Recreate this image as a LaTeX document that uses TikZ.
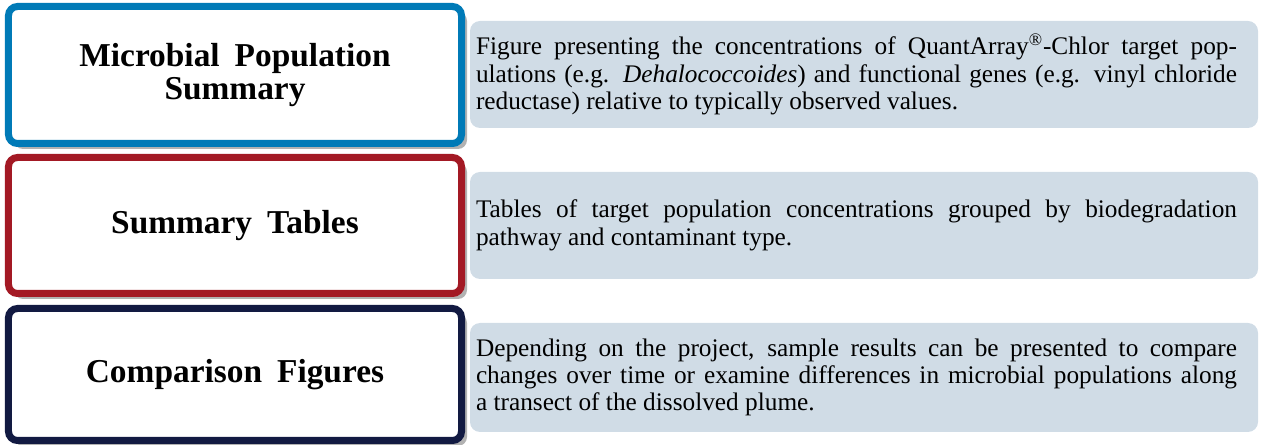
\documentclass[tikz,border=0pt]{standalone}
\usepackage{fontspec}
\setmainfont{Liberation Serif}
\usepackage{tikz}
\usetikzlibrary{shadows}
\definecolor{secblue}{RGB}{0,122,183}
\definecolor{secred}{RGB}{163,25,36}
\definecolor{secnavy}{RGB}{18,26,66}
\definecolor{descfill}{RGB}{208,220,230}
\def\wgap{\hskip 0.45em}
\def\desctext#1{\parbox{15.22cm}{\rightskip=0pt\spaceskip=0pt\xspaceskip=0pt\hyphenpenalty=10000\tolerance=9999\relax #1}}
\tikzset{
	headbox/.style={draw=#1, line width=0.14cm, rounded corners=0.18cm, fill=white,
		minimum width=9.06cm, align=center, font=\fontsize{19}{19.2}\selectfont\bfseries,
		drop shadow={shadow xshift=0.11cm, shadow yshift=-0.11cm, fill=black!30, opacity=1}},
	descbox/.style={fill=descfill, rounded corners=0.2cm, minimum width=15.76cm,
		text width=15.52cm, inner xsep=0.12cm, align=justify, font=\fontsize{14.4}{15.6}\selectfont}
}

\begin{document}
\begin{tikzpicture}
			%%%%% START %%%%%
			
			\useasboundingbox (0, 0) rectangle (25.22, -8.9);
			
			\node[headbox=secblue, minimum height=2.74cm] (msum) at (4.7, -1.5) {Microbial\wgap Population\\Summary};
			\node[descbox, minimum height=2.14cm] (msum-desc) at (17.28, -1.49) {\desctext{%
				Figure presenting the concentrations of QuantArray\textsuperscript{\textregistered}-Chlor target pop-\linebreak
				ulations (e.g. \emph{Dehalococcoides}) and functional genes (e.g. vinyl chloride\linebreak
				reductase) relative to typically observed values.}};
			
			\node[headbox=secred, minimum height=2.72cm] (stab) at (4.7, -4.51) {Summary\wgap Tables};
			\node[descbox, minimum height=2.14cm] (stab-desc) at (17.28, -4.51) {\desctext{%
				Tables of target population concentrations grouped by biodegradation\linebreak
				pathway and contaminant type.}};
			
			\node[headbox=secnavy, minimum height=2.64cm] (cfig) at (4.7, -7.49) {Comparison\wgap Figures};
			\node[descbox, minimum height=2.18cm] (cfig-desc) at (17.28, -7.55) {\desctext{%
				Depending on the project, sample results can be presented to compare\linebreak
				changes over time or examine differences in microbial populations along\linebreak
				a transect of the dissolved plume.}};
			
			%%%%% END %%%%%
\end{tikzpicture}
\end{document}
